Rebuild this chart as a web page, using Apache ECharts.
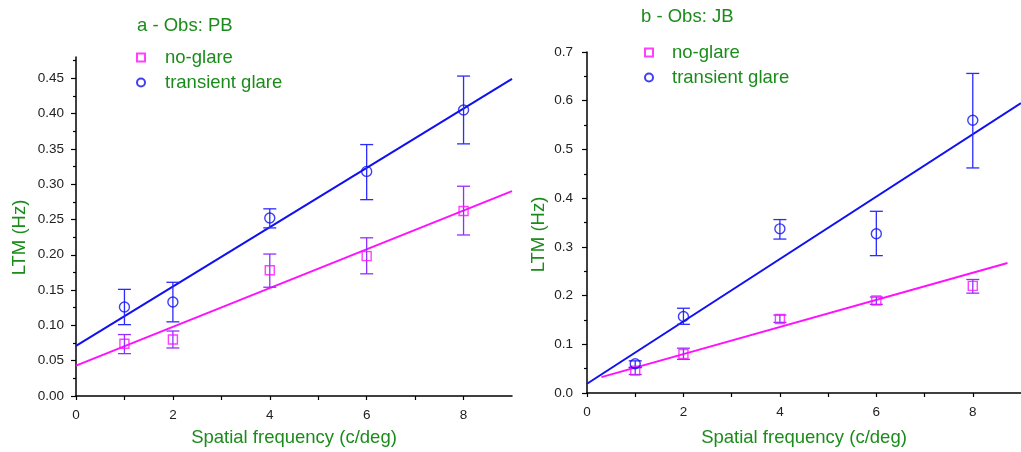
<!DOCTYPE html>
<html>
<head>
<meta charset="utf-8">
<script src="https://cdn.jsdelivr.net/npm/echarts@6/dist/echarts.min.js"></script>
<style>html,body{margin:0;padding:0;background:#fff}#c{width:1021px;height:452px}</style>
</head>
<body>
<div id="c"></div>
<script>
// ---------- data ----------
const freqs = [1, 2, 4, 6, 8];
// Panel a - Obs: PB
const aNoGlare = [0.074, 0.080, 0.178, 0.198, 0.262];
const aNoGlareLow = [0.060, 0.068, 0.154, 0.173, 0.228];
const aNoGlareHigh = [0.087, 0.092, 0.201, 0.224, 0.297];
const aGlare = [0.126, 0.133, 0.252, 0.318, 0.405];
const aGlareLow = [0.101, 0.105, 0.238, 0.278, 0.357];
const aGlareHigh = [0.151, 0.161, 0.265, 0.356, 0.453];
const aFitNoGlare = [[0, 0.043], [9, 0.290]];
const aFitGlare = [[0, 0.071], [9, 0.449]];
// Panel b - Obs: JB
const bNoGlare = [0.046, 0.080, 0.152, 0.190, 0.220];
const bNoGlareLow = [0.038, 0.069, 0.145, 0.182, 0.205];
const bNoGlareHigh = [0.053, 0.092, 0.160, 0.197, 0.233];
const bGlare = [0.060, 0.157, 0.337, 0.327, 0.560];
const bGlareLow = [0.052, 0.141, 0.316, 0.282, 0.462];
const bGlareHigh = [0.066, 0.174, 0.356, 0.373, 0.656];
const bFitNoGlare = [[0.3, 0.0326], [8.72, 0.2668]];
const bFitGlare = [[0, 0.019], [9, 0.595]];
// ticks
const xTickLabels = [0, 2, 4, 6, 8];
const aYMajor = [0, 0.05, 0.10, 0.15, 0.20, 0.25, 0.30, 0.35, 0.40, 0.45];
const aYMinor = [0.025, 0.075, 0.125, 0.175, 0.225, 0.275, 0.325, 0.375, 0.425, 0.475];
const titles = ['a - Obs: PB', 'b - Obs: JB'];
const names = ['no-glare', 'transient glare'];

// ---------- style ----------
const GREEN = '#1b8c1b';
const BLUE = '#1010f0';
const MAGENTA = '#ff10ff';
const BLUE_ERR = '#2b2bff';
const MAG_ERR = '#9030ff';
const FONT = '"Liberation Sans", Arial, sans-serif';

const pts = (ys) => freqs.map((x, i) => [x, ys[i]]);
const errs = (lo, hi) => freqs.map((x, i) => [x, lo[i], hi[i]]);

function errRender(color) {
  return function (params, api) {
    const x = api.value(0);
    const lo = api.coord([x, api.value(1)]);
    const hi = api.coord([x, api.value(2)]);
    const w = 6.5;
    const st = { stroke: color, lineWidth: 1.3 };
    return {
      type: 'group',
      children: [
        { type: 'line', shape: { x1: lo[0], y1: lo[1], x2: hi[0], y2: hi[1] }, style: st },
        { type: 'line', shape: { x1: lo[0] - w, y1: lo[1], x2: lo[0] + w, y2: lo[1] }, style: st },
        { type: 'line', shape: { x1: hi[0] - w, y1: hi[1], x2: hi[0] + w, y2: hi[1] }, style: st }
      ]
    };
  };
}

const axisLineStyle = { show: true, lineStyle: { color: '#000', width: 1.5 } };
const labelStyle = { color: '#222', fontSize: 13.5, fontFamily: FONT };
const nameStyle = { color: GREEN, fontSize: 18.5, fontFamily: FONT };

function xAxisFor(gi, gap) {
  return {
    type: 'value', gridIndex: gi, min: 0, max: 9, interval: 1, position: 'bottom',
    axisLine: axisLineStyle,
    axisTick: { show: true, inside: false, length: 4, lineStyle: { color: '#000', width: 1.2 } },
    axisLabel: Object.assign({ margin: 12, showMaxLabel: false,
      formatter: v => (xTickLabels.indexOf(v) >= 0 ? String(v) : '') }, labelStyle),
    splitLine: { show: false },
    name: 'Spatial frequency (c/deg)', nameLocation: 'middle', nameGap: gap,
    nameTextStyle: nameStyle
  };
}

function panelSeries(xi, yi, noG, noLo, noHi, gl, glLo, glHi, fitNo, fitGl) {
  return [
    { type: 'line', name: 'fitNo' + xi, xAxisIndex: xi, yAxisIndex: yi, data: fitNo, showSymbol: false,
      symbol: 'none', lineStyle: { color: MAGENTA, width: 2 }, silent: true, clip: true, z: 2 },
    { type: 'line', name: 'fitGl' + xi, xAxisIndex: xi, yAxisIndex: yi, data: fitGl, showSymbol: false,
      symbol: 'none', lineStyle: { color: BLUE, width: 2 }, silent: true, clip: true, z: 2 },
    { type: 'custom', name: 'errNo' + xi, xAxisIndex: xi, yAxisIndex: yi, data: errs(noLo, noHi),
      renderItem: errRender(MAG_ERR), z: 3 },
    { type: 'custom', name: 'errGl' + xi, xAxisIndex: xi, yAxisIndex: yi, data: errs(glLo, glHi),
      renderItem: errRender(BLUE_ERR), z: 3 },
    { type: 'scatter', name: names[0], xAxisIndex: xi, yAxisIndex: yi, data: pts(noG),
      symbol: 'rect', symbolSize: 9,
      itemStyle: { color: 'rgba(255,255,255,0)', borderColor: MAGENTA, borderWidth: 1.4 }, z: 4 },
    { type: 'scatter', name: names[1], xAxisIndex: xi, yAxisIndex: yi, data: pts(gl),
      symbol: 'circle', symbolSize: 10,
      itemStyle: { color: 'rgba(255,255,255,0)', borderColor: BLUE, borderWidth: 1.4 }, z: 4 }
  ];
}

const legendCommon = {
  orient: 'vertical', data: names, itemWidth: 8, itemHeight: 8, itemGap: 6,
  selectedMode: false,
  textStyle: { color: GREEN, fontSize: 18.5, fontFamily: FONT, lineHeight: 18 }
};

const option = {
  animation: false,
  backgroundColor: '#fff',
  title: [
    { text: titles[0], left: 132, top: 11, textStyle: { color: GREEN, fontSize: 18.5, fontWeight: 'normal', fontFamily: FONT } },
    { text: titles[1], left: 636, top: 2, textStyle: { color: GREEN, fontSize: 18.5, fontWeight: 'normal', fontFamily: FONT } }
  ],
  legend: [
    Object.assign({}, legendCommon, { left: 131, top: 43,
      textStyle: Object.assign({}, legendCommon.textStyle, { padding: [0, 0, 0, 15] }) }),
    Object.assign({}, legendCommon, { left: 639, top: 38,
      textStyle: Object.assign({}, legendCommon.textStyle, { padding: [0, 0, 0, 14] }) })
  ],
  grid: [
    { left: 76, right: 509, top: 57, bottom: 55, containLabel: false },
    { left: 587, right: -8, top: 52, bottom: 56, containLabel: false }
  ],
  xAxis: [xAxisFor(0, 32), xAxisFor(1, 35)],
  yAxis: [
    { type: 'value', gridIndex: 0, min: 0, max: 0.48, interval: 0.05, position: 'left',
      axisLine: axisLineStyle,
      axisTick: { show: true, length: 5, customValues: aYMajor, lineStyle: { color: '#000', width: 1.2 } },
      axisLabel: Object.assign({ margin: 12, customValues: aYMajor, formatter: v => v.toFixed(2) }, labelStyle),
      splitLine: { show: false },
      name: 'LTM (Hz)', nameLocation: 'middle', nameGap: 47,
      nameTextStyle: Object.assign({ padding: [0, 22, 0, 0] }, nameStyle) },
    { type: 'value', gridIndex: 0, min: 0, max: 0.48, position: 'left', offset: 0,
      axisLine: { show: false },
      axisTick: { show: true, length: 3, customValues: aYMinor, lineStyle: { color: '#000', width: 1.2 } },
      axisLabel: { show: false }, splitLine: { show: false } },
    { type: 'value', gridIndex: 1, min: 0, max: 0.7, interval: 0.1, position: 'left',
      axisLine: axisLineStyle,
      axisTick: { show: true, length: 5, lineStyle: { color: '#000', width: 1.2 } },
      minorTick: { show: true, splitNumber: 2, length: 3, lineStyle: { color: '#000', width: 1.2 } },
      axisLabel: Object.assign({ margin: 14, formatter: v => v.toFixed(1) }, labelStyle),
      splitLine: { show: false },
      name: 'LTM (Hz)', nameLocation: 'middle', nameGap: 39,
      nameTextStyle: Object.assign({ padding: [0, 24, 0, 0] }, nameStyle) }
  ],
  series: [].concat(
    panelSeries(0, 0, aNoGlare, aNoGlareLow, aNoGlareHigh, aGlare, aGlareLow, aGlareHigh, aFitNoGlare, aFitGlare),
    panelSeries(1, 2, bNoGlare, bNoGlareLow, bNoGlareHigh, bGlare, bGlareLow, bGlareHigh, bFitNoGlare, bFitGlare)
  )
};

const chart = echarts.init(document.getElementById('c'), null, { renderer: 'canvas' });
chart.setOption(option);
</script>
</body>
</html>
